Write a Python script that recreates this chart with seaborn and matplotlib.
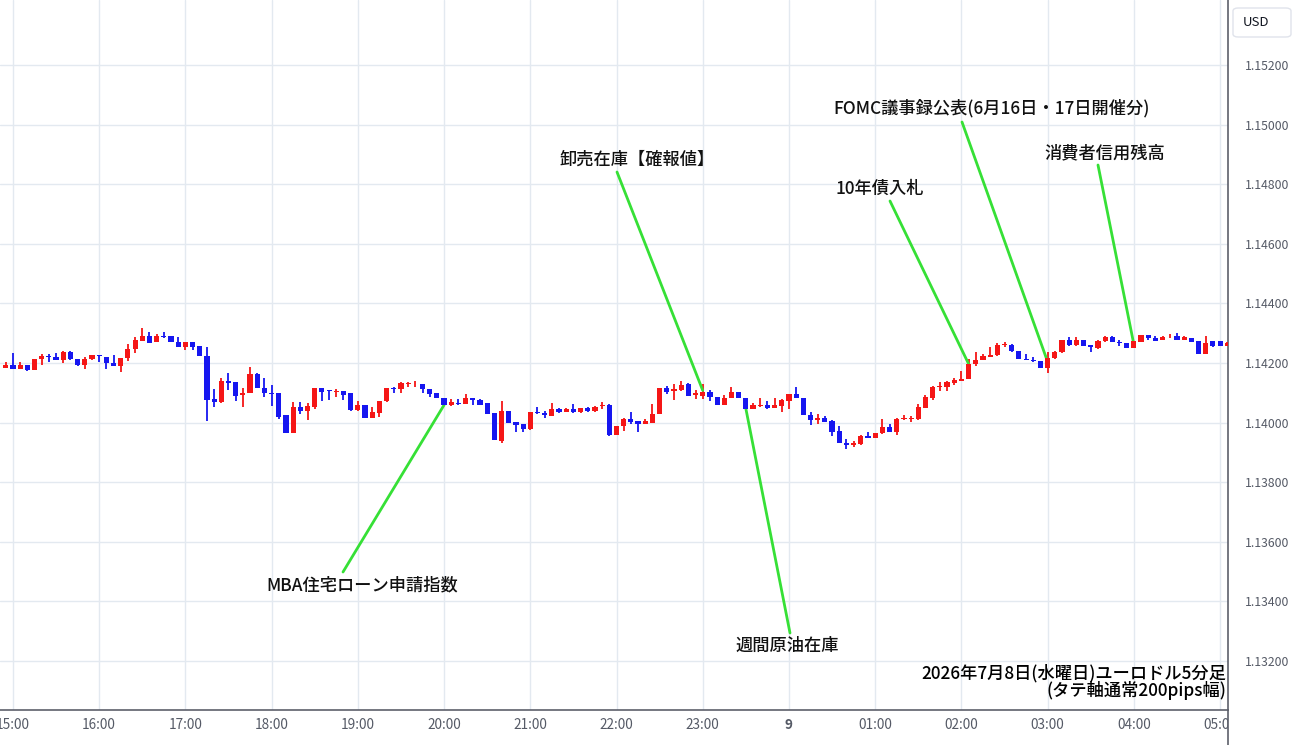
import numpy as np
import pandas as pd
import seaborn as sns
import matplotlib
matplotlib.use("Agg")
import matplotlib.pyplot as plt
from matplotlib.patches import FancyBboxPatch
from matplotlib.lines import Line2D
from matplotlib.transforms import Bbox, TransformedBbox

# EUR/USD 5-minute candles, 2026-07-08 14:55 -> 07-09 05:05
start_time = "2026-07-08 14:55"

opens = [
    1.14182, 1.14194, 1.14180, 1.14194, 1.14176, 1.14212, 1.14222, 1.14220, 1.14210, 1.14236,
    1.14214, 1.14192, 1.14212, 1.14227, 1.14220, 1.14200, 1.14189, 1.14217, 1.14247, 1.14275,
    1.14290, 1.14269, 1.14292, 1.14290, 1.14272, 1.14253, 1.14272, 1.14258, 1.14225, 1.14078,
    1.14068, 1.14141, 1.14135, 1.14092, 1.14100, 1.14163, 1.14115, 1.14101, 1.14099, 1.14025,
    1.13964, 1.14051, 1.14040, 1.14051, 1.14115, 1.14108, 1.14104, 1.14107, 1.14098, 1.14042,
    1.14059, 1.14017, 1.14032, 1.14071, 1.14114, 1.14112, 1.14131, 1.14128, 1.14131, 1.14112,
    1.14101, 1.14084, 1.14058, 1.14066, 1.14062, 1.14084, 1.14076, 1.14065, 1.14031, 1.13938,
    1.14039, 1.14003, 1.13994, 1.13978, 1.14035, 1.14033, 1.14023, 1.14047, 1.14036, 1.14047,
    1.14037, 1.14050, 1.14040, 1.14057, 1.14058, 1.13957, 1.13987, 1.14011, 1.14006, 1.13994,
    1.14000, 1.14028, 1.14115, 1.14105, 1.14110, 1.14129, 1.14093, 1.14090, 1.14104, 1.14086,
    1.14058, 1.14084, 1.14104, 1.14084, 1.14045, 1.14057, 1.14058, 1.14048, 1.14056, 1.14073,
    1.14095, 1.14081, 1.14026, 1.14008, 1.14017, 1.14006, 1.13973, 1.13933, 1.13924, 1.13928,
    1.13956, 1.13950, 1.13964, 1.13984, 1.13969, 1.14013, 1.14013, 1.14012, 1.14049, 1.14081,
    1.14120, 1.14118, 1.14133, 1.14138, 1.14146, 1.14197, 1.14210, 1.14219, 1.14227, 1.14260,
    1.14262, 1.14241, 1.14213, 1.14210, 1.14208, 1.14182, 1.14216, 1.14236, 1.14277, 1.14262,
    1.14278, 1.14262, 1.14251, 1.14273, 1.14286, 1.14268, 1.14268, 1.14251, 1.14270, 1.14295,
    1.14284, 1.14277, 1.14289, 1.14290, 1.14277, 1.14284, 1.14273, 1.14230, 1.14275, 1.14273,
    1.14257,
]
highs = [
    1.14203, 1.14232, 1.14203, 1.14194, 1.14213, 1.14230, 1.14230, 1.14232, 1.14239, 1.14239,
    1.14214, 1.14221, 1.14228, 1.14228, 1.14220, 1.14226, 1.14217, 1.14264, 1.14286, 1.14318,
    1.14305, 1.14297, 1.14305, 1.14290, 1.14288, 1.14272, 1.14272, 1.14258, 1.14253, 1.14113,
    1.14150, 1.14165, 1.14135, 1.14115, 1.14185, 1.14166, 1.14148, 1.14126, 1.14099, 1.14025,
    1.14068, 1.14070, 1.14065, 1.14115, 1.14115, 1.14109, 1.14113, 1.14107, 1.14098, 1.14073,
    1.14059, 1.14051, 1.14071, 1.14115, 1.14118, 1.14135, 1.14135, 1.14140, 1.14131, 1.14112,
    1.14101, 1.14084, 1.14078, 1.14078, 1.14095, 1.14084, 1.14078, 1.14065, 1.14031, 1.14071,
    1.14039, 1.14003, 1.13994, 1.14037, 1.14053, 1.14039, 1.14067, 1.14050, 1.14050, 1.14064,
    1.14050, 1.14054, 1.14056, 1.14070, 1.14064, 1.13987, 1.14017, 1.14034, 1.14006, 1.14011,
    1.14062, 1.14115, 1.14123, 1.14128, 1.14138, 1.14132, 1.14109, 1.14129, 1.14109, 1.14086,
    1.14093, 1.14121, 1.14104, 1.14084, 1.14067, 1.14084, 1.14073, 1.14084, 1.14078, 1.14095,
    1.14118, 1.14081, 1.14034, 1.14029, 1.14023, 1.14010, 1.13989, 1.13945, 1.13939, 1.13958,
    1.13967, 1.13965, 1.14012, 1.13995, 1.14015, 1.14025, 1.14023, 1.14062, 1.14092, 1.14124,
    1.14135, 1.14138, 1.14150, 1.14174, 1.14213, 1.14238, 1.14230, 1.14255, 1.14266, 1.14272,
    1.14264, 1.14241, 1.14230, 1.14219, 1.14208, 1.14238, 1.14241, 1.14277, 1.14286, 1.14286,
    1.14278, 1.14262, 1.14277, 1.14290, 1.14292, 1.14277, 1.14268, 1.14273, 1.14295, 1.14295,
    1.14290, 1.14292, 1.14297, 1.14301, 1.14292, 1.14284, 1.14273, 1.14292, 1.14275, 1.14273,
    1.14270,
]
lows = [
    1.14182, 1.14180, 1.14180, 1.14172, 1.14176, 1.14193, 1.14202, 1.14210, 1.14199, 1.14210,
    1.14189, 1.14180, 1.14210, 1.14205, 1.14180, 1.14189, 1.14169, 1.14206, 1.14234, 1.14275,
    1.14267, 1.14269, 1.14283, 1.14269, 1.14253, 1.14244, 1.14245, 1.14222, 1.14006, 1.14051,
    1.14067, 1.14109, 1.14071, 1.14051, 1.14100, 1.14115, 1.14085, 1.14057, 1.14011, 1.13964,
    1.13964, 1.14029, 1.14010, 1.14045, 1.14073, 1.14076, 1.14087, 1.14076, 1.14040, 1.14040,
    1.14015, 1.14015, 1.14018, 1.14068, 1.14101, 1.14101, 1.14118, 1.14118, 1.14099, 1.14086,
    1.14082, 1.14056, 1.14056, 1.14058, 1.14062, 1.14058, 1.14059, 1.14028, 1.13941, 1.13931,
    1.13997, 1.13969, 1.13969, 1.13974, 1.14028, 1.14017, 1.14023, 1.14031, 1.14034, 1.14031,
    1.14031, 1.14037, 1.14037, 1.14047, 1.13955, 1.13957, 1.13972, 1.13994, 1.13970, 1.13994,
    1.14000, 1.14028, 1.14095, 1.14075, 1.14106, 1.14090, 1.14078, 1.14078, 1.14071, 1.14058,
    1.14058, 1.14084, 1.14082, 1.14045, 1.14045, 1.14054, 1.14045, 1.14048, 1.14034, 1.14045,
    1.14081, 1.14026, 1.13993, 1.13995, 1.14001, 1.13956, 1.13930, 1.13913, 1.13917, 1.13926,
    1.13948, 1.13948, 1.13961, 1.13969, 1.13958, 1.14008, 1.14003, 1.14010, 1.14049, 1.14076,
    1.14107, 1.14105, 1.14127, 1.14138, 1.14146, 1.14191, 1.14210, 1.14219, 1.14225, 1.14253,
    1.14236, 1.14213, 1.14210, 1.14202, 1.14182, 1.14165, 1.14213, 1.14232, 1.14258, 1.14258,
    1.14258, 1.14238, 1.14247, 1.14269, 1.14269, 1.14258, 1.14251, 1.14251, 1.14270, 1.14278,
    1.14273, 1.14277, 1.14283, 1.14278, 1.14277, 1.14269, 1.14230, 1.14230, 1.14255, 1.14256,
    1.14257,
]
closes = [
    1.14194, 1.14180, 1.14194, 1.14176, 1.14213, 1.14224, 1.14220, 1.14210, 1.14236, 1.14212,
    1.14192, 1.14213, 1.14226, 1.14225, 1.14199, 1.14189, 1.14217, 1.14248, 1.14278, 1.14290,
    1.14267, 1.14292, 1.14286, 1.14269, 1.14253, 1.14272, 1.14255, 1.14222, 1.14076, 1.14068,
    1.14141, 1.14132, 1.14090, 1.14101, 1.14163, 1.14115, 1.14099, 1.14096, 1.14020, 1.13964,
    1.14051, 1.14038, 1.14056, 1.14115, 1.14104, 1.14106, 1.14106, 1.14094, 1.14042, 1.14059,
    1.14017, 1.14034, 1.14071, 1.14115, 1.14112, 1.14132, 1.14133, 1.14130, 1.14112, 1.14097,
    1.14082, 1.14059, 1.14069, 1.14064, 1.14084, 1.14076, 1.14059, 1.14028, 1.13941, 1.14039,
    1.14000, 1.13991, 1.13978, 1.14034, 1.14033, 1.14024, 1.14047, 1.14036, 1.14047, 1.14036,
    1.14050, 1.14039, 1.14054, 1.14058, 1.13957, 1.13987, 1.14011, 1.14002, 1.13994, 1.14006,
    1.14030, 1.14115, 1.14104, 1.14114, 1.14127, 1.14090, 1.14101, 1.14104, 1.14086, 1.14058,
    1.14084, 1.14104, 1.14082, 1.14045, 1.14058, 1.14058, 1.14048, 1.14058, 1.14075, 1.14095,
    1.14081, 1.14026, 1.14008, 1.14017, 1.14003, 1.13969, 1.13933, 1.13924, 1.13930, 1.13956,
    1.13948, 1.13965, 1.13984, 1.13969, 1.14012, 1.14014, 1.14014, 1.14051, 1.14085, 1.14118,
    1.14121, 1.14135, 1.14144, 1.14146, 1.14197, 1.14210, 1.14222, 1.14228, 1.14260, 1.14261,
    1.14239, 1.14213, 1.14210, 1.14206, 1.14182, 1.14216, 1.14238, 1.14277, 1.14262, 1.14278,
    1.14258, 1.14253, 1.14275, 1.14286, 1.14269, 1.14266, 1.14251, 1.14273, 1.14295, 1.14284,
    1.14275, 1.14286, 1.14290, 1.14278, 1.14288, 1.14269, 1.14230, 1.14266, 1.14258, 1.14256,
    1.14266,
]

# economic events (label, candle time, price the line points at)
event_labels = ["MBA住宅ローン申請指数", "卸売在庫【確報値】", "週間原油在庫",
                "10年債入札", "FOMC議事録公表(6月16日・17日開催分)", "消費者信用残高"]
event_times = ["2026-07-08 20:00", "2026-07-08 23:00", "2026-07-08 23:30",
               "2026-07-09 02:05", "2026-07-09 03:00", "2026-07-09 04:00"]
event_prices = [1.14059, 1.14108, 1.14047, 1.14197, 1.14204, 1.14262]

y_ticks = [1.132, 1.134, 1.136, 1.138, 1.140, 1.142, 1.144, 1.146, 1.148, 1.150, 1.152]
caption = "2026年7月8日(水曜日)ユーロドル5分足\n(タテ軸通常200pips幅)"

UP = "#f51616"
DOWN = "#1616f0"
GREEN = "#36e036"
W, H = 1300, 745

df = pd.DataFrame({"open": opens, "high": highs, "low": lows, "close": closes})
df["time"] = pd.date_range(start_time, periods=len(df), freq="5min")
df["idx"] = np.arange(len(df))
df["up"] = df["close"] >= df["open"]

sns.set_style("white")
plt.rcParams["font.family"] = ["Noto Sans CJK JP", "DejaVu Sans"]

fig = plt.figure(figsize=(13, 7.45), dpi=100)
ax = fig.add_axes([0, 35 / H, 1228 / W, 710 / H])

colors = np.where(df["up"], UP, DOWN)
ax.vlines(df["idx"], df["low"], df["high"], colors=colors, lw=1.3, zorder=3)
body = np.maximum((df["close"] - df["open"]).abs(), 0.00003)
ax.bar(df["idx"], body, bottom=np.minimum(df["open"], df["close"]),
       width=0.72, color=colors, lw=0, zorder=4)

# hourly ticks
hours = df[df["time"].dt.minute == 0]
xt_labels = ["9" if t.hour == 0 else t.strftime("%H:%M") for t in hours["time"]]
ax.set_xticks(hours["idx"])
ax.set_xticklabels(xt_labels)
# labels are cut at the price-scale border, like the original chart
clip = TransformedBbox(Bbox([[0, 0], [1228 / W, 1]]), fig.transFigure)
for lab, t in zip(ax.get_xticklabels(), hours["time"]):
    lab.set_clip_box(clip)
    lab.set_clip_on(True)
    if t.hour == 0:
        lab.set_fontweight("bold")
        lab.set_color("#222222")

ax.set_yticks(y_ticks)
ax.set_yticklabels([f"{v:.5f}" for v in y_ticks])
ax.yaxis.tick_right()
ax.tick_params(axis="y", length=0, pad=12, labelsize=8.8, labelcolor="#555a66")
ax.tick_params(axis="x", length=0, pad=6, labelsize=9.8, labelcolor="#555a66")

ax.set_xlim(-0.8, 170.1)
ax.set_ylim(1.130356, 1.154181)
ax.grid(True, color="#e3e9f0", lw=1)
ax.set_axisbelow(True)
for s in ["top", "left"]:
    ax.spines[s].set_visible(False)
ax.spines["bottom"].set_color("#5d606b")
ax.spines["right"].set_color("#5d606b")
ax.spines["bottom"].set_linewidth(1.2)
ax.spines["right"].set_linewidth(1.2)
fig.add_artist(Line2D([1228 / W, 1228 / W], [0, 35 / H], color="#5d606b", lw=1.2))

# USD box
fig.add_artist(FancyBboxPatch((1233 / W, 1 - 37 / H), 58 / W, 29 / H,
                              boxstyle="round,pad=0,rounding_size=0.004",
                              fc="white", ec="#e0e3eb", lw=1, transform=fig.transFigure))
fig.text(1243 / W, 1 - 22 / H, "USD", fontsize=9.5, color="#131722", va="center", ha="left")

# event annotations: (text centre px, line start px)
layout = [((362, 585), (343, 572)), ((637, 160), (617, 172)), ((787, 646), (790, 633)),
          ((880, 189), (890, 201)), ((992, 108), (962, 122)), ((1105, 153), (1098, 165))]
for lab, t, p, ((tx, ty), (lx, ly)) in zip(event_labels, event_times, event_prices, layout):
    i = df.loc[df["time"] == pd.Timestamp(t), "idx"].iloc[0]
    ax.annotate("", xy=(i, p), xycoords="data", xytext=(lx / W, 1 - ly / H),
                textcoords="figure fraction",
                arrowprops=dict(arrowstyle="-", color=GREEN, lw=2, shrinkA=0, shrinkB=0))
    fig.text(tx / W, 1 - ty / H, lab, fontsize=12.4, fontweight="medium", color="#111111",
             ha="center", va="center")

fig.text(1226 / W, 1 - 682 / H, caption, fontsize=12.4, fontweight="medium", color="#000000",
         ha="right", va="center", linespacing=0.95)

fig.savefig("out.png", dpi=100)
